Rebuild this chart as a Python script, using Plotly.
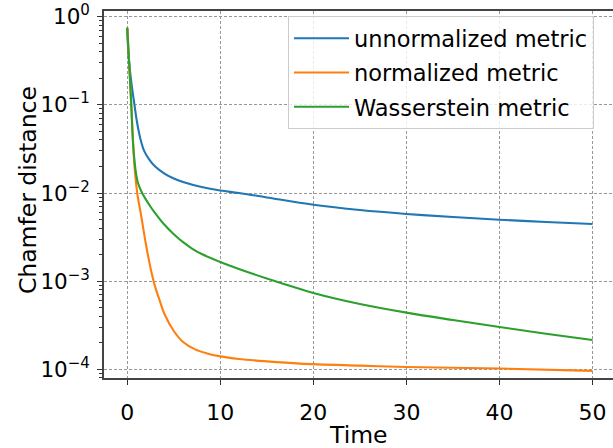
import plotly.graph_objects as go

# ---- data ----
t_unnorm = [0, 0.1, 0.3, 0.5, 0.774, 1.0, 1.26, 1.5, 1.8, 2.33, 3, 4, 5, 6, 8, 10, 12, 15, 20, 25, 30, 35, 40, 45, 50]
y_unnorm = [0.75, 0.42, 0.24, 0.16, 0.100, 0.0682, 0.0484, 0.0379, 0.0303, 0.0243, 0.0200, 0.01664, 0.01461,
            0.01333, 0.01169, 0.01067, 0.0100, 0.0089, 0.00735, 0.0064, 0.00578, 0.00534, 0.00498, 0.00469, 0.00445]

t_norm = [0, 0.2, 0.43, 0.6, 0.75, 1.07, 1.5, 2.0, 2.5, 3.0, 3.5, 4.0, 5.0, 6.0, 7.3, 8.5, 10, 12, 15, 18.6, 25, 30, 40, 50]
y_norm = [0.75, 0.30, 0.10, 0.042, 0.022, 0.0100, 0.00548, 0.00264, 0.00141, 0.00086, 0.000595, 0.000424,
          0.000272, 0.000204, 0.000168, 0.000152, 0.000140, 0.000131, 0.000123, 0.000116, 0.000110, 0.000106,
          0.000102, 0.000096]

t_wass = [0, 0.2, 0.43, 0.6, 0.75, 0.93, 1.15, 1.6, 2.5, 3.2, 4, 5, 6, 7, 8, 10, 12, 15, 20, 25, 30, 35, 40, 45, 50]
y_wass = [0.75, 0.30, 0.10, 0.040, 0.025, 0.017, 0.0130, 0.0100, 0.00699, 0.00554, 0.004356, 0.003401, 0.002766,
          0.002328, 0.002032, 0.00165, 0.001373, 0.001071, 0.000734, 0.00055, 0.000439, 0.000362, 0.000302,
          0.000253, 0.000215]

series_names = ["unnormalized metric", "normalized metric", "Wasserstein metric"]
series_colors = ["#1f77b4", "#ff7f0e", "#2ca02c"]

x_title = "Time"
y_title = "Chamfer distance"
x_ticks = [0, 10, 20, 30, 40, 50]
y_tickvals = [1e-4, 1e-3, 1e-2, 1e-1, 1e0]
y_ticktext = ["10<sup>\u22124</sup>", "10<sup>\u22123</sup>", "10<sup>\u22122</sup>",
              "10<sup>\u22121</sup>", "10<sup>0</sup>"]
y_minor = [k * 10.0 ** d for d in range(-5, 1) for k in range(2, 10)]

FONT = "DejaVu Sans"

fig = go.Figure()
for t, y, name, col in zip([t_unnorm, t_norm, t_wass], [y_unnorm, y_norm, y_wass], series_names, series_colors):
    fig.add_trace(go.Scatter(x=t, y=y, mode="lines", name=name, legendgroup=name,
                             line=dict(color=col, width=2.1, shape="spline", smoothing=1.0)))

fig.update_layout(
    width=613, height=448,
    margin=dict(l=104, r=0, t=11, b=70),
    paper_bgcolor="white", plot_bgcolor="white",
    font=dict(family=FONT, size=21, color="black"),
    showlegend=True,
    legend=dict(x=0.3615, y=0.986, xanchor="left", yanchor="top",
                bgcolor="rgba(255,255,255,0.8)", bordercolor="#cccccc", borderwidth=1,
                font=dict(family=FONT, size=22.5), traceorder="grouped", tracegroupgap=2, itemwidth=55),
    annotations=[
        dict(text=x_title, xref="paper", yref="paper", x=0.5, y=-0.156, xanchor="center", yanchor="middle",
             showarrow=False, font=dict(family=FONT, size=23.5)),
        dict(text=y_title, xref="paper", yref="paper", x=-0.1493, y=0.512, xanchor="center", yanchor="middle",
             textangle=-90, showarrow=False, font=dict(family=FONT, size=23.5)),
    ],
)

fig.update_xaxes(
    range=[-2.5, 52.2], tickvals=x_ticks, ticks="outside", ticklen=5, tickwidth=1.2, tickcolor="#333",
    showline=True, linecolor="#444", linewidth=1.5, mirror=True, zeroline=False, automargin=False,
    showgrid=True, gridcolor="#999", gridwidth=1, griddash="3px,2px",
    tickfont=dict(family=FONT, size=22), ticklabelstandoff=9,
)
fig.update_yaxes(
    type="log", range=[-4.099, 0.065], tickmode="array", tickvals=y_tickvals, ticktext=y_ticktext,
    ticks="outside", ticklen=5, tickwidth=1.2, tickcolor="#333",
    minor=dict(tickmode="array", tickvals=y_minor, ticks="outside", ticklen=3, tickwidth=1, tickcolor="#333", showgrid=False),
    showline=True, linecolor="#444", linewidth=1.5, mirror=False, zeroline=False, automargin=False,
    showgrid=True, gridcolor="#999", gridwidth=1, griddash="3px,2px",
    tickfont=dict(family=FONT, size=21.5), ticklabelstandoff=3,
)

fig.write_html("out.html")
